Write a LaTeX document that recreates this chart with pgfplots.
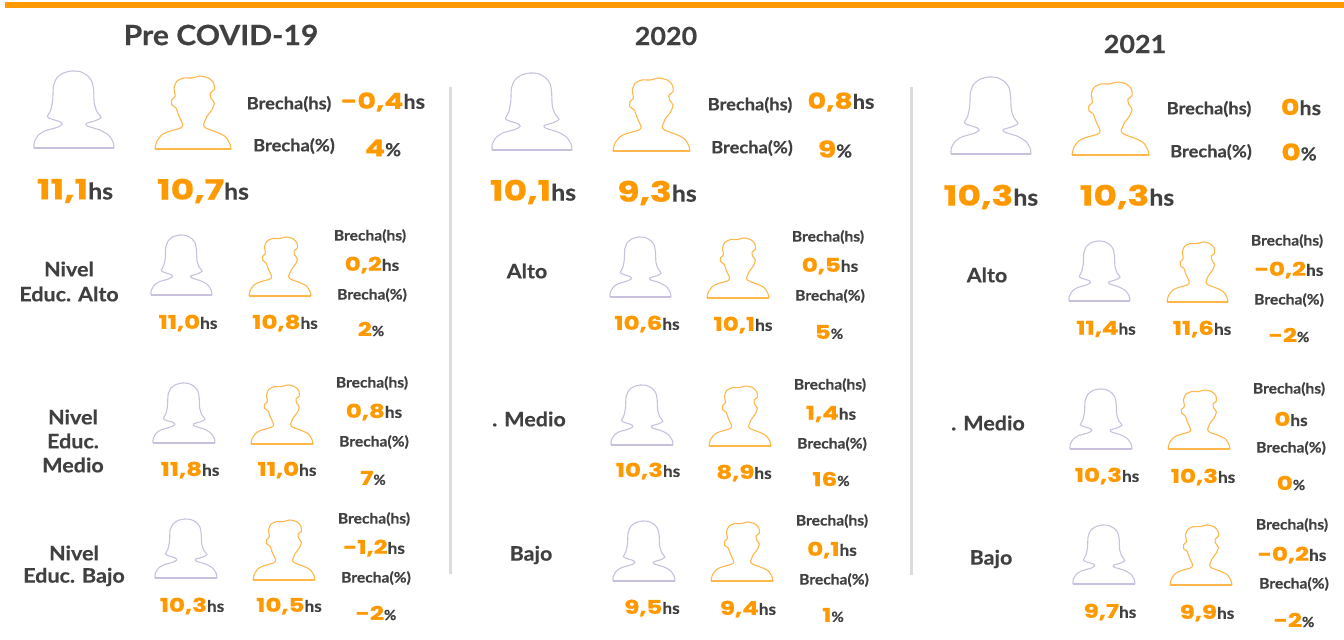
\documentclass[border=0pt]{standalone}
\usepackage{pgfplots}
\usepackage{pgfplotstable}
\usepackage{fontspec}
\pgfplotsset{compat=1.18}
\setmainfont{Lato}[BoldFeatures={FakeStretch=1.08,FakeBold=0.4}]
\newfontfamily\numfont{Poppins}[BoldFeatures={FakeStretch=1.3,FakeBold=0.7}]
\definecolor{naranja}{HTML}{FF9900}
\definecolor{gris}{HTML}{404040}
\definecolor{lila}{HTML}{C9C0DE}
\definecolor{naranjaicon}{HTML}{FFB64A}
\definecolor{divisor}{HTML}{DCDCDC}

% outlines
\pgfplotstableread{
x y
102 443
103 425
115 405
135 392
170 382
186 373
180 365
155 357
142 350
152 330
158 300
160 260
170 235
190 220
215 214
240 216
262 228
275 245
280 270
282 310
290 335
302 352
285 362
258 370
262 378
300 390
325 405
338 425
341 443
}\mujer
\pgfplotstableread{
x y
465 447
470 425
485 405
505 395
540 385
548 375
535 345
528 325
515 315
515 300
525 290
522 265
530 245
550 235
575 235
600 229
625 235
640 250
642 270
630 280
632 295
642 310
635 330
620 350
610 375
618 385
650 397
675 410
688 430
692 447
}\hombre

\newcommand{\iconm}[4]{\addplot[lila, line width=1.1pt, smooth, tension=0.4, no markers]
  table[x expr=#1+(\thisrow{x}-102)/239*(#2-#1), y expr=#4-(443-\thisrow{y})/229*(#4-#3)] {\mujer};
  \addplot[lila, line width=1.1pt, no markers] coordinates {(#1,#4) (#2,#4)};}
\newcommand{\iconh}[4]{\addplot[naranjaicon, line width=1.1pt, smooth, tension=0.4, no markers]
  table[x expr=#1+(\thisrow{x}-465)/227*(#2-#1), y expr=#4-(447-\thisrow{y})/218*(#4-#3)] {\hombre};
  \addplot[naranjaicon, line width=1.1pt, no markers] coordinates {(#1,#4) (#2,#4)};}
% x y number unit numsize unitsize
\newcommand{\val}[6]{\node[inner sep=0pt] at (axis cs:#1,#2)
  {{\numfont\bfseries\fontsize{#5}{#5}\selectfont\color{naranja}#3}{\bfseries\fontsize{#6}{#6}\selectfont\color{gris}#4}};}
\newcommand{\txt}[4]{\node[inner sep=0pt, text=gris, font=\bfseries\fontsize{#4}{#4}\selectfont] at (axis cs:#1,#2) {#3};}

\begin{document}
\begin{tikzpicture}
\begin{axis}[
  scale only axis, width=1344bp, height=639bp,
  xmin=0, xmax=1344, ymin=0, ymax=639, y dir=reverse,
  axis lines=none, ticks=none, clip=false,
]
\addplot[draw=none, forget plot] coordinates {(0,0) (1344,639)};
\addplot[fill=naranja, draw=none] coordinates {(5,2) (1344,2) (1344,8.5) (5,8.5)} -- cycle;
\addplot[divisor, line width=3pt] coordinates {(450,87) (450,574)};
\addplot[divisor, line width=3pt] coordinates {(911,87) (911,575)};

% titulos
\txt{221}{35}{Pre COVID-19}{28}
\txt{666}{36}{2020}{25}
\txt{1135}{44}{2021}{25}

% ---- Pre COVID
\iconm{34}{114}{71}{148}\iconh{155}{231}{76}{149}
\val{75}{191}{11,1}{hs}{28}{23}\val{203}{191}{10,7}{hs}{28}{23}
\txt{289}{104}{Brecha(hs)}{17}\txt{294}{146}{Brecha(\%)}{17}
\val{383}{102}{-0,4}{hs}{22}{20}\val{383}{148}{4}{\%}{23}{18}

\txt{69}{269}{Nivel}{20}\txt{69}{294}{Educ. Alto}{20}
\iconm{151}{212}{235}{295}\iconh{249}{311}{237}{296}
\val{188}{323}{11,0}{hs}{19}{16}\val{285}{323}{10,8}{hs}{19}{16}
\txt{370}{236}{Brecha(hs)}{14.5}\txt{372}{295}{Brecha(\%)}{14.5}
\val{372}{265}{0,2}{hs}{19}{16}\val{371}{329}{2}{\%}{19}{14}

\txt{73}{417}{Nivel}{20}\txt{73}{441}{Educ.}{20}\txt{73}{465}{Medio}{20}
\iconm{153}{215}{383}{443}\iconh{251}{313}{385}{444}
\val{190}{470}{11,8}{hs}{19}{16}\val{287}{470}{11,0}{hs}{19}{16}
\txt{372}{383}{Brecha(hs)}{14.5}\txt{374}{442}{Brecha(\%)}{14.5}
\val{374}{412}{0,8}{hs}{19}{16}\val{373}{478}{7}{\%}{19}{14}

\txt{74}{553}{Nivel}{20}\txt{74}{577}{Educ. Bajo}{20}
\iconm{155}{217}{519}{578}\iconh{253}{315}{520}{580}
\val{192}{606}{10,3}{hs}{19}{16}\val{289}{606}{10,5}{hs}{19}{16}
\txt{374}{519}{Brecha(hs)}{14.5}\txt{376}{578}{Brecha(\%)}{14.5}
\val{374}{548}{-1,2}{hs}{19}{16}\val{376}{613}{-2}{\%}{19}{14}

% ---- 2020
\iconm{492}{572}{73}{150}\iconh{613}{690}{78}{151}
\val{533}{192}{10,1}{hs}{28}{23}\val{657}{193}{9,3}{hs}{28}{23}
\txt{750}{105}{Brecha(hs)}{17}\txt{752}{148}{Brecha(\%)}{17}
\val{841}{102}{0,8}{hs}{22}{20}\val{835}{149}{9}{\%}{23}{18}

\txt{527}{271}{Alto}{20}
\iconm{610}{671}{237}{297}\iconh{707}{769}{238}{298}
\val{647}{324}{10,6}{hs}{19}{16}\val{743}{325}{10,1}{hs}{19}{16}
\txt{828}{237}{Brecha(hs)}{14.5}\txt{830}{296}{Brecha(\%)}{14.5}
\val{830}{266}{0,5}{hs}{19}{16}\val{829}{332}{5}{\%}{19}{14}

\txt{529}{419}{. Medio}{20}
\iconm{611}{673}{385}{445}\iconh{709}{771}{386}{446}
\val{648}{471}{10,3}{hs}{19}{16}\val{744}{473}{8,9}{hs}{19}{16}
\txt{830}{385}{Brecha(hs)}{14.5}\txt{832}{444}{Brecha(\%)}{14.5}
\val{831}{414}{1,4}{hs}{19}{16}\val{831}{479}{16}{\%}{19}{14}

\txt{531}{555}{Bajo}{20}
\iconm{613}{675}{521}{581}\iconh{711}{773}{522}{581}
\val{652}{608}{9,5}{hs}{19}{16}\val{748}{609}{9,4}{hs}{19}{16}
\txt{832}{521}{Brecha(hs)}{14.5}\txt{834}{580}{Brecha(\%)}{14.5}
\val{832}{550}{0,1}{hs}{19}{16}\val{833}{615}{1}{\%}{19}{14}

% ---- 2021
\iconm{951}{1031}{77}{154}\iconh{1072}{1149}{82}{155}
\val{991}{197}{10,3}{hs}{28}{23}\val{1127}{197}{10,3}{hs}{28}{23}
\txt{1209}{109}{Brecha(hs)}{17}\txt{1211}{152}{Brecha(\%)}{17}
\val{1301}{107}{0}{hs}{22}{20}\val{1299}{152}{0}{\%}{23}{18}

\txt{987}{275}{Alto}{20}
\iconm{1069}{1130}{241}{301}\iconh{1167}{1228}{242}{302}
\val{1106}{329}{11,4}{hs}{19}{16}\val{1202}{329}{11,6}{hs}{19}{16}
\txt{1287}{241}{Brecha(hs)}{14.5}\txt{1289}{300}{Brecha(\%)}{14.5}
\val{1289}{270}{-0,2}{hs}{19}{16}\val{1289}{335}{-2}{\%}{19}{14}

\txt{988}{423}{. Medio}{20}
\iconm{1070}{1132}{389}{449}\iconh{1168}{1230}{390}{449}
\val{1107}{476}{10,3}{hs}{19}{16}\val{1203}{477}{10,3}{hs}{19}{16}
\txt{1289}{389}{Brecha(hs)}{14.5}\txt{1291}{448}{Brecha(\%)}{14.5}
\val{1291}{419}{0}{hs}{19}{16}\val{1291}{483}{0}{\%}{19}{14}

\txt{991}{559}{Bajo}{20}
\iconm{1073}{1135}{525}{584}\iconh{1170}{1232}{525}{585}
\val{1110}{612}{9,7}{hs}{19}{16}\val{1207}{613}{9,9}{hs}{19}{16}
\txt{1292}{525}{Brecha(hs)}{14.5}\txt{1294}{584}{Brecha(\%)}{14.5}
\val{1292}{555}{-0,2}{hs}{19}{16}\val{1294}{620}{-2}{\%}{19}{14}
\end{axis}
\end{tikzpicture}
\end{document}
